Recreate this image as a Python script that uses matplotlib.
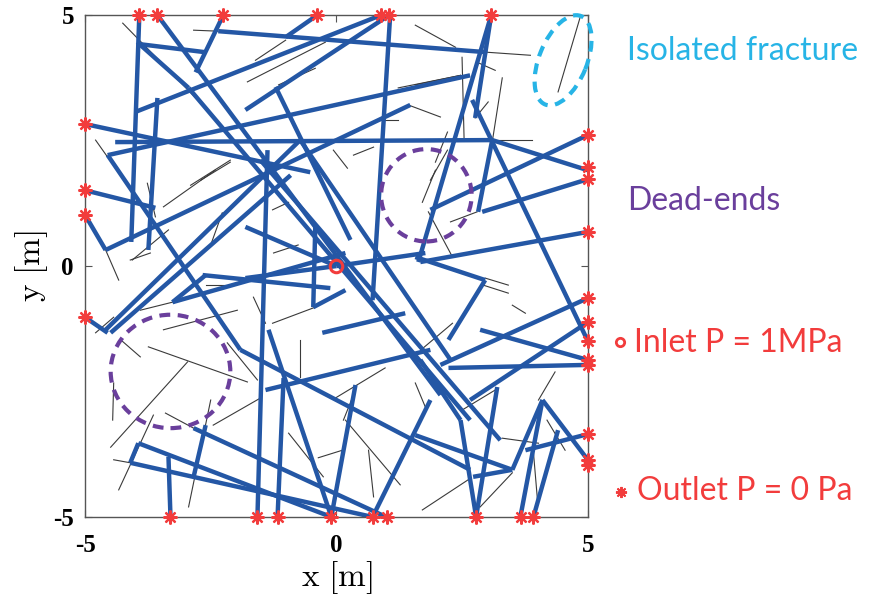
import numpy as np
import matplotlib
matplotlib.use('Agg')
import matplotlib.pyplot as plt
from matplotlib.patches import Ellipse

plt.rcParams['mathtext.fontset'] = 'cm'
plt.rcParams['axes.unicode_minus'] = False

# connected fractures (x0, y0, x1, y1) in metres
blue_segments = [
    (-3.92, 5.00, -4.08, 0.48), (-3.56, 5.00, 2.07, -2.57), (-2.35, 4.68, 3.00, 4.26),
    (-2.25, 5.00, -2.80, 3.86), (-3.90, 4.42, -2.60, 4.26), (-4.00, 3.07, 0.89, 5.00),
    (-0.38, 5.00, -1.01, 4.56), (-3.96, 4.46, -2.94, 3.55), (-3.56, 3.35, -3.74, 0.32),
    (-5.00, 2.83, -0.52, 1.87), (-5.00, 1.51, -3.60, 1.16), (-5.00, 1.02, -4.59, 0.32),
    (-4.59, 0.32, 1.47, 3.21), (-4.55, 2.21, 2.66, 3.80), (-4.40, 2.47, 3.10, 2.51),
    (3.10, 2.51, 5.00, 1.91), (5.00, 2.61, 1.87, 1.12), (2.82, 1.08, 3.10, 2.51),
    (2.90, 1.08, 5.00, 1.73), (1.07, 5.00, 0.72, -0.68), (3.08, 5.00, 2.76, 2.95),
    (3.08, 5.00, 1.63, 0.08), (-5.00, -1.02, -4.55, -1.33), (-4.59, -1.27, -0.72, 2.51),
    (-4.49, -1.33, -0.91, 1.81), (-4.55, 2.21, -1.91, -1.67), (-1.37, 2.31, -1.57, -5.00),
    (-2.66, -0.18, -0.12, -0.44), (-3.26, -0.72, -2.60, -0.18), (-3.26, -0.72, 0.18, 0.26),
    (-0.42, 0.78, -0.46, -0.82), (-0.46, -0.82, 0.18, -0.48), (-3.30, -5.00, -3.34, -3.80),
    (-3.94, -3.53, -0.10, -5.00), (-4.10, -3.92, 0.72, -5.00), (-3.94, -3.53, -4.10, -3.92),
    (-2.84, -3.23, 0.99, -5.00), (-2.60, -3.17, -2.84, -4.20), (-1.17, -5.00, -1.05, -2.23),
    (-0.10, -5.00, -1.35, -1.27), (-0.10, -5.00, 0.38, -2.37), (0.72, -5.00, 1.87, -2.67),
    (2.78, -5.00, 2.47, -3.07), (2.47, -3.07, 1.67, -1.87), (2.78, -5.00, 3.20, -2.41),
    (2.72, -4.20, 3.50, -4.06), (3.50, -4.06, 4.10, -2.67), (3.66, -5.00, 4.10, -2.67),
    (3.92, -5.00, 4.41, -3.27), (4.10, -2.67, 5.00, -3.86), (3.76, -3.67, 5.00, -3.35),
    (1.57, -3.37, 3.50, -4.06), (5.00, -1.97, 2.23, -2.03), (5.00, -0.64, 2.07, -1.97),
    (5.00, 0.68, 1.67, 0.08), (2.70, 3.31, 5.00, -1.49), (0.00, 0.00, 1.77, 0.26),
    (-1.81, 0.78, 0.00, 0.00), (-1.81, -0.24, 0.00, 0.00), (1.57, 0.18, 2.96, -0.28),
    (2.96, -0.28, 2.23, -1.47), (5.00, -1.12, 2.66, -2.67), (5.00, -1.87, 2.86, -1.27),
    (-2.94, 3.55, 2.66, -3.07), (-1.51, 2.11, 3.26, -3.47), (-0.72, 2.51, 2.27, -1.87),
    (-1.41, -2.47, 1.87, -1.67), (-1.91, -1.67, 2.66, -4.06), (1.05, 5.00, -1.81, 3.11),
    (-1.21, 3.57, 0.28, 0.52), (-0.28, -1.33, 1.37, -0.94),
]

# isolated / dead-end fractures
black_segments = [
    (-4.25, 4.84, -2.76, 3.31), (-2.84, 4.70, -2.35, 4.68), (-1.61, 4.10, -1.01, 4.50),
    (-1.77, 3.67, -0.22, 4.46), (-1.15, 3.61, -0.42, 3.94), (-2.70, 1.71, -2.11, 2.07),
    (-4.79, 2.51, -4.55, 2.17), (1.57, 4.80, 2.37, 4.36), (3.00, 4.26, 3.86, 4.20),
    (2.80, 4.06, 3.16, 3.90), (2.50, 4.16, 2.54, 2.55), (3.30, 3.75, 3.10, 2.47),
    (1.23, 3.55, 2.47, 3.80), (1.43, 3.21, 2.07, 2.97), (3.10, 2.51, 3.90, 2.51),
    (0.34, 2.21, 0.74, 2.37), (-0.06, 2.31, 0.22, 1.95), (0.83, 2.91, 1.23, 2.91),
    (1.87, 1.71, 2.21, 2.31), (4.85, 4.96, 4.41, 3.47), (-3.44, 1.18, -2.41, 1.91),
    (-3.76, 1.65, -3.60, 0.98), (-4.06, 0.12, -3.34, 0.72), (-4.59, 0.32, -4.33, -0.28),
    (-2.50, 0.42, -2.27, 1.06), (-3.90, -0.88, -3.26, -0.72), (-3.44, -1.27, -1.97, -0.88),
    (-2.60, -0.38, -2.07, -0.38), (-1.65, -0.62, -1.41, -1.14), (-1.27, -1.14, -0.42, -0.82),
    (-1.25, 0.26, -0.76, 0.42), (-1.27, 1.12, -0.95, 1.27), (-4.29, -1.47, -3.90, -1.81),
    (-3.74, -1.61, -1.77, -2.31), (-2.96, -1.91, -4.49, -3.61), (-4.43, -2.33, -4.45, -3.07),
    (-3.40, -2.93, -2.84, -3.23), (-3.64, -2.97, -4.33, -4.46), (-4.43, -3.86, -4.10, -3.92),
    (-2.50, -2.67, -2.94, -4.80), (-2.45, -3.17, -1.51, -2.63), (-2.17, -1.53, -1.57, -2.27),
    (-0.72, -1.47, -0.72, -2.21), (-0.95, -3.33, -0.26, -4.20), (-0.36, -3.82, 0.12, -3.67),
    (-0.02, -2.63, 0.97, -2.03), (0.34, -2.57, 0.14, -3.07), (0.64, -3.67, 0.74, -4.60),
    (0.18, -3.07, 1.27, -4.36), (1.71, -4.86, 2.62, -4.26), (2.86, -4.80, 3.50, -4.12),
    (2.50, -2.87, 3.16, -2.47), (3.30, -3.43, 4.02, -3.53), (3.92, -3.71, 4.00, -4.66),
    (4.02, -2.67, 4.35, -2.11), (1.57, -2.33, 1.77, -2.81), (4.19, -3.07, 4.55, -3.67),
    (1.83, 1.08, 2.31, 0.18), (2.37, 1.37, 2.72, 1.51), (2.27, 0.88, 2.80, 1.08),
    (2.96, -0.24, 3.42, -0.38), (2.92, -0.38, 3.42, -0.54), (3.50, -0.78, 3.76, -0.94),
    (1.73, -1.63, 2.31, -1.14), (1.71, 1.27, 1.97, 1.91), (1.57, 3.61, 2.47, 3.80),
    (1.97, 2.07, 2.21, 2.67), (2.76, 2.95, 3.02, 3.27), (-4.79, -1.33, -4.43, -1.02),
    (-4.10, 0.12, -3.70, 0.26), (-2.11, 2.11, -2.90, 1.61),
]

outlet_x = [-3.92, -3.56, -2.25, -0.38, 0.89, 1.05, 3.08,
            -5, -5, -5, -5,
            5, 5, 5, 5, 5, 5, 5, 5, 5, 5, 5, 5,
            -3.30, -1.57, -1.17, -0.10, 0.72, 1.00, 2.78, 3.68, 3.92]
outlet_y = [5, 5, 5, 5, 5, 5, 5,
            2.83, 1.51, 1.02, -1.02,
            2.61, 1.97, 1.73, 0.68, -0.64, -1.12, -1.49, -1.87, -1.97, -3.35, -3.86, -3.96,
            -5, -5, -5, -5, -5, -5, -5, -5, -5]
inlet = (0.0, 0.0)

# annotation shapes: (cx, cy, width, height, angle)
dead_ends = [(1.79, 1.41, 1.80, 1.84, 0), (-3.30, -2.10, 2.38, 2.26, 0)]
isolated = (4.51, 4.10, 1.90, 0.95, 68)

blue = '#2457a5'
red = '#f23c3c'
purple = '#6a3f9c'
cyan = '#27b4e6'

fig = plt.figure(figsize=(8.72, 6.05), dpi=100)
ax = fig.add_axes([0.0975, 0.1455, 0.5765, 0.8295])

for x0, y0, x1, y1 in black_segments:
    ax.plot([x0, x1], [y0, y1], color='#3a3a3a', lw=0.8, zorder=1)
for x0, y0, x1, y1 in blue_segments:
    ax.plot([x0, x1], [y0, y1], color=blue, lw=3.2, solid_capstyle='butt', zorder=2)

for cx, cy, w, h, a in dead_ends:
    ax.add_patch(Ellipse((cx, cy), w, h, angle=a, fill=False, ec=purple, lw=3,
                         ls=(0, (2.6, 1.8)), zorder=4))
cx, cy, w, h, a = isolated
ax.add_patch(Ellipse((cx, cy), w, h, angle=a, fill=False, ec=cyan, lw=3,
                     ls=(0, (2.6, 1.8)), zorder=4, clip_on=False))

ax.plot(outlet_x, outlet_y, ls='none', marker=(8, 2, 0), ms=10, mew=1.6,
        color=red, clip_on=False, zorder=5)
ax.plot([inlet[0]], [inlet[1]], ls='none', marker='o', ms=9, mew=2.2,
        mfc='none', mec=red, zorder=5)

ax.set_xlim(-5, 5)
ax.set_ylim(-5, 5)
ax.set_xticks([-5, 0, 5])
ax.set_yticks([-5, 0, 5])
ax.tick_params(direction='in', length=5, width=0.8, top=True, right=True,
               labelsize=18, color='#555555')
ax.tick_params(axis='x', pad=12)
ax.tick_params(axis='y', pad=8)
for lab in ax.get_xticklabels() + ax.get_yticklabels():
    lab.set_fontfamily('Liberation Serif')
    lab.set_fontweight('bold')
for sp in ax.spines.values():
    sp.set_color('#555555')
    sp.set_linewidth(1.0)

ax.set_xlabel(r'$\mathrm{x\ [m]}$', fontsize=24, labelpad=2)
ax.set_ylabel(r'$\mathrm{y\ [m]}$', fontsize=24, labelpad=2)

tf = dict(fontsize=23, family='Lato')
fig.text(0.719, 0.915, 'Isolated fracture', color=cyan, va='center', **tf)
fig.text(0.719, 0.667, 'Dead-ends', color=purple, va='center', **tf)
fig.text(0.727, 0.433, 'Inlet P = 1MPa', color=red, va='center', **tf)
fig.text(0.731, 0.188, 'Outlet P = 0 Pa', color=red, va='center', **tf)
ax.plot([0.711], [0.435], transform=fig.transFigure, ls='none', marker='o', ms=6,
        mew=2, mfc='none', mec=red, clip_on=False)
ax.plot([0.712], [0.186], transform=fig.transFigure, ls='none', marker=(8, 2, 0),
        ms=8, mew=1.4, color=red, clip_on=False)

fig.savefig('out.png', dpi=100)
